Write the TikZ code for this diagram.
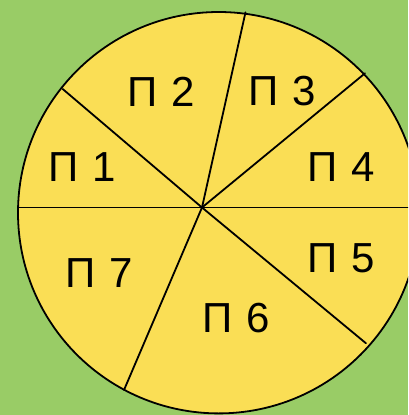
\documentclass[tikz,border=0pt]{standalone}
\usepackage{fontspec}
\setmainfont{Liberation Sans}
\definecolor{bg}{HTML}{99CC66}
\definecolor{pie}{HTML}{FADE55}
\begin{document}
\begin{tikzpicture}[x=1pt,y=-1pt,
  lbl/.style={font=\fontsize{42}{42}\selectfont, inner sep=0pt, text=black},
  edge/.style={draw=black, line width=1.8pt}]
\useasboundingbox (0,0) rectangle (408,415);
\clip (0,0) rectangle (408,415);
\fill[bg] (0,0) rectangle (408,415);
\coordinate (c) at (218.7,212.7);
\filldraw[fill=pie, edge] (c) circle (200.7pt);
\coordinate (o) at (202,207.5);
\coordinate (e1) at (62.7,89);
\coordinate (e2) at (245.5,12.3);
\coordinate (e3) at (365,73.3);
\coordinate (e4) at (420,207.5);
\coordinate (e5) at (366,343.3);
\coordinate (e6) at (124,390);
\coordinate (e7) at (18.5,207.5);
\foreach \i in {1,...,7} {\draw[edge, line cap=round] (o) -- (e\i);}
\node[lbl] (p1) at (82.5,167) {П\hspace{0.33em}1};
\node[lbl] (p2) at (161,91.5) {П\hspace{0.33em}2};
\node[lbl] (p3) at (282,91) {П\hspace{0.33em}3};
\node[lbl] (p4) at (341,167) {П\hspace{0.33em}4};
\node[lbl] (p5) at (341.5,258) {П\hspace{0.33em}5};
\node[lbl] (p6) at (236,318) {П\hspace{0.33em}6};
\node[lbl] (p7) at (99,273) {П\hspace{0.33em}7};
\end{tikzpicture}
\end{document}
